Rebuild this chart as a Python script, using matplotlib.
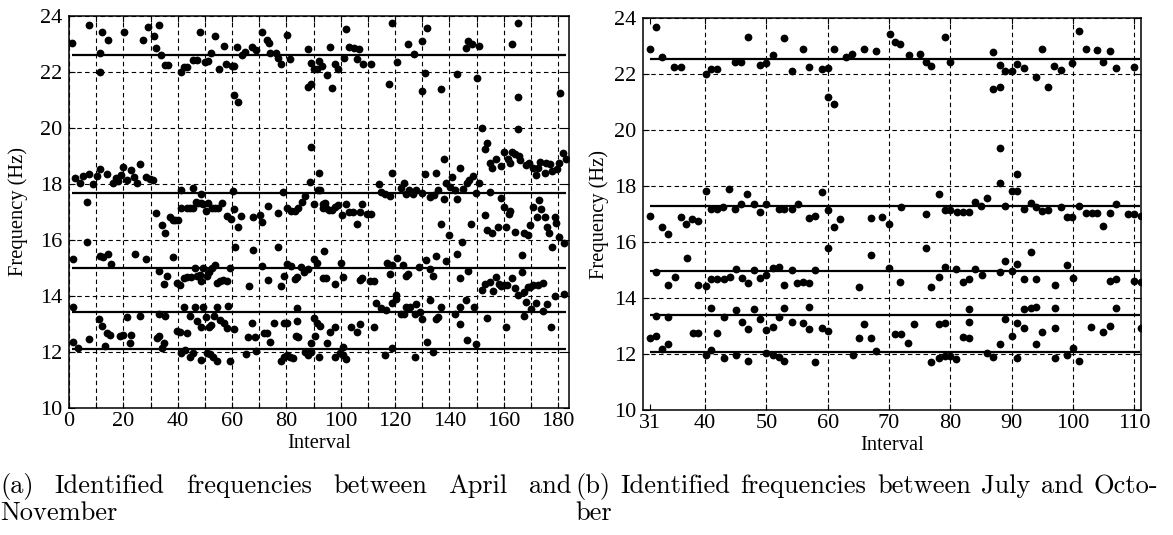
import numpy as np
import matplotlib.pyplot as plt

plt.rcParams['font.family'] = ['Liberation Serif', 'DejaVu Serif']

# (a) April - November : (interval, frequency) pairs per band
a_band1 = [(1.0, 23.03), (7.4, 23.69), (11.4, 22.67), (11.4, 21.99), (12.1, 23.42), (14.5, 23.15),
           (20.1, 23.42), (27.1, 23.13), (29.2, 23.59), (31.3, 23.28), (32.2, 22.87), (33.2, 23.69),
           (33.9, 22.6), (35.3, 22.24), (36.4, 22.24), (41.4, 22.01), (42.3, 22.18), (43.3, 22.18),
           (45.7, 22.43), (47.2, 22.43), (48.2, 23.44), (50.0, 22.35), (51.0, 22.38), (52.2, 22.67),
           (53.9, 23.27), (55.1, 22.1), (57.0, 22.92), (57.9, 22.29), (59.9, 22.2), (60.9, 22.2),
           (60.9, 21.18), (62.3, 20.94), (62.0, 22.9), (63.8, 22.6), (64.9, 22.72), (67.2, 22.9),
           (69.0, 22.8), (71.2, 23.42), (72.7, 23.15), (73.5, 23.05), (74.1, 22.67), (76.0, 22.67),
           (77.0, 22.5), (78.0, 22.3), (80.2, 23.31), (81.2, 22.46), (87.9, 22.82), (89.0, 22.32),
           (90.1, 22.1), (91.1, 22.1), (92.0, 22.4), (88.0, 21.48), (89.0, 21.57), (93.1, 22.21),
           (96.0, 22.9), (95.0, 21.88), (97.8, 22.3), (99.0, 22.12), (96.9, 21.42), (101.8, 23.54),
           (101.1, 22.49), (103.0, 22.9), (105.0, 22.87), (106.9, 22.82), (106.0, 22.45), (108.2, 22.27),
           (111.0, 22.3), (119.0, 23.76), (120.8, 22.34), (117.8, 21.57), (124.9, 22.99), (127.1, 22.63),
           (130.0, 23.12), (131.7, 23.58), (131.1, 21.96), (130.0, 21.33), (137.0, 21.4), (142.8, 21.94),
           (146.0, 22.87), (146.8, 23.12), (148.3, 22.99), (150.7, 22.94), (150.1, 21.78), (162.9, 22.99),
           (165.1, 23.76), (165.1, 21.12), (180.5, 21.26)]

a_band2 = [(89.2, 19.33), (152.0, 20.0), (165.1, 19.98), (153.7, 19.48), (152.9, 19.24), (155.0, 18.76),
           (155.7, 18.56), (157.0, 18.91), (159.0, 18.64), (160.0, 19.13), (161.5, 18.88), (162.1, 18.75),
           (162.9, 19.13), (164.2, 19.07), (165.5, 19.0), (166.1, 18.86), (168.3, 18.67), (169.2, 18.74),
           (170.8, 18.57), (172.0, 18.33), (172.6, 18.57), (173.5, 18.8), (175.1, 18.38), (175.7, 18.74),
           (176.9, 18.71), (177.9, 18.46), (179.4, 18.55), (180.4, 18.75), (181.8, 19.1), (183.0, 18.9),
           (2.2, 18.21), (4.0, 18.05), (5.3, 18.29), (7.5, 18.36), (8.9, 18.0), (10.2, 18.29),
           (11.6, 18.53), (13.9, 18.36), (16.1, 18.03), (17.3, 18.21), (18.1, 18.09), (19.1, 18.32),
           (20.0, 18.6), (21.2, 18.14), (22.8, 18.5), (23.9, 18.26), (25.1, 18.03), (26.1, 18.7),
           (28.3, 18.26), (29.8, 18.17), (31.0, 18.14)]

a_band3 = [(6.5, 17.37), (32.2, 16.95), (34.3, 16.53), (35.3, 16.26), (37.1, 16.81), (38.1, 16.73),
           (39.0, 16.7), (40.2, 16.73), (41.4, 17.77), (45.7, 17.84), (48.6, 17.65), (41.3, 17.13),
           (43.3, 17.13), (44.5, 17.16), (45.7, 17.15), (46.7, 17.37), (47.6, 17.31), (48.4, 17.31),
           (49.4, 17.29), (50.3, 17.05), (51.0, 17.31), (52.7, 17.13), (53.9, 17.13), (54.9, 17.13),
           (56.4, 17.31), (60.4, 17.74), (58.0, 16.84), (59.5, 16.75), (60.7, 17.1), (62.3, 16.48),
           (63.2, 16.84), (67.8, 16.81), (70.2, 16.9), (71.2, 16.63), (73.1, 17.23), (77.0, 16.95),
           (78.8, 17.7), (80.2, 17.13), (81.8, 17.05), (83.1, 17.05), (84.3, 17.13), (85.6, 17.37),
           (86.8, 17.56), (88.6, 18.08), (91.7, 17.79), (92.3, 17.79), (92.0, 18.41), (90.0, 17.28),
           (93.5, 17.28), (94.1, 17.33), (93.3, 17.15), (94.7, 17.13), (95.7, 17.07), (96.7, 17.07),
           (97.8, 17.19), (99.0, 17.25), (100.6, 16.89), (101.8, 17.28), (103.1, 17.0), (104.6, 17.0),
           (106.0, 16.58), (107.0, 17.0), (108.0, 17.3), (109.8, 16.94), (111.3, 16.94),
           (114.0, 17.99), (114.9, 17.7), (116.2, 17.65), (118.0, 17.58), (119.0, 18.38), (122.3, 17.84),
           (123.2, 18.04), (123.9, 17.65), (125.1, 17.8), (126.6, 17.65), (127.8, 17.77), (130.0, 17.67),
           (131.1, 18.35), (134.9, 18.38), (132.9, 17.52), (134.2, 17.6), (135.8, 17.77), (138.0, 17.47),
           (138.0, 18.88), (138.9, 18.03), (140.3, 17.9), (141.0, 18.26), (141.9, 17.77), (142.8, 17.48),
           (143.8, 18.56), (145.0, 17.83), (146.3, 18.04), (147.2, 18.14), (148.7, 18.28), (149.9, 17.67),
           (150.9, 18.05), (137.0, 16.57), (139.8, 16.18), (144.7, 15.94), (147.8, 16.57),
           (154.8, 17.72), (158.9, 17.49), (159.9, 17.17), (161.8, 16.93), (162.4, 17.03), (153.0, 16.89),
           (153.8, 16.35), (155.8, 16.26), (157.8, 16.45), (160.9, 16.45), (164.0, 16.29), (167.6, 16.26),
           (168.8, 16.17), (169.5, 16.54), (170.7, 17.18), (172.1, 16.83), (172.9, 17.42), (173.7, 17.12),
           (175.0, 16.83), (175.8, 16.45), (176.6, 16.24), (177.8, 15.74), (178.7, 16.81), (179.3, 16.62),
           (180.3, 16.12), (182.0, 15.9)]

a_band4 = [(1.4, 15.31), (6.5, 15.94), (11.4, 15.43), (12.4, 15.38), (14.2, 15.5), (15.4, 15.14),
           (24.3, 15.5), (28.3, 15.31), (33.2, 14.9), (36.2, 14.71), (35.0, 14.43), (38.4, 15.4),
           (39.8, 14.45), (41.0, 14.39), (42.3, 14.65), (43.3, 14.69), (45.0, 14.69), (46.2, 15.01),
           (47.2, 14.71), (48.2, 14.74), (48.4, 14.53), (49.4, 15.01), (50.9, 14.71), (51.7, 14.85),
           (52.7, 15.01), (53.6, 15.1), (54.3, 14.48), (55.5, 14.53), (56.7, 14.56), (58.0, 14.53),
           (59.4, 15.01), (61.0, 15.74), (67.8, 15.64), (66.3, 14.37), (71.2, 15.07), (73.1, 14.57),
           (77.0, 15.74), (78.2, 14.37), (79.1, 14.73), (80.2, 15.13), (81.8, 15.07), (83.1, 14.6),
           (83.9, 14.69), (85.2, 15.05), (86.4, 14.86), (88.0, 14.95), (90.2, 15.31), (91.1, 15.19),
           (93.8, 15.61), (93.3, 14.63), (94.5, 14.63), (97.8, 14.43), (100.2, 15.17), (100.9, 14.69),
           (107.0, 14.57), (108.0, 14.63), (110.9, 14.55), (112.1, 14.55), (117.0, 15.19), (118.0, 14.79),
           (118.9, 15.11), (120.8, 15.35), (122.9, 15.11), (123.9, 14.71), (124.7, 14.79), (128.8, 15.05),
           (131.2, 15.29), (132.9, 14.95), (133.9, 14.71), (134.9, 15.43), (138.6, 15.26), (142.8, 15.5),
           (144.0, 14.65), (146.8, 14.9), (152.1, 14.21), (153.0, 14.43), (154.8, 14.51), (156.0, 14.19),
           (157.3, 14.67), (158.2, 14.43), (159.1, 14.36), (159.9, 14.39), (161.2, 14.39), (162.9, 14.63),
           (164.0, 14.27), (165.2, 14.04), (166.8, 14.87), (167.6, 14.15), (168.3, 13.8), (168.9, 14.31),
           (169.5, 14.33), (170.7, 14.39), (172.6, 14.39), (174.6, 14.45), (178.7, 14.0), (166.8, 15.46),
           (182.0, 14.08)]

a_band5 = [(1.4, 13.6), (11.0, 13.17), (12.0, 12.93), (13.9, 12.69), (15.1, 12.61), (18.7, 12.57),
           (19.7, 12.61), (21.2, 13.26), (23.0, 12.61), (26.1, 13.29), (33.0, 13.36), (35.3, 13.29),
           (42.3, 13.6), (44.5, 13.29), (46.2, 13.6), (47.2, 13.12), (48.4, 12.9), (49.4, 13.6),
           (50.3, 13.26), (51.5, 12.9), (52.3, 12.96), (53.3, 13.29), (54.3, 13.6), (55.5, 13.14),
           (57.0, 13.04), (58.2, 12.84), (58.6, 13.64), (60.7, 12.81), (39.6, 12.76), (40.8, 12.73),
           (43.3, 12.69), (33.1, 12.57), (32.5, 12.49), (34.9, 12.33), (34.3, 12.15), (65.9, 12.52),
           (67.2, 13.02), (68.4, 12.52), (69.0, 12.04), (71.7, 12.69), (72.9, 12.69), (74.1, 12.36),
           (75.4, 13.04), (79.1, 13.04), (80.1, 13.04), (84.0, 13.56), (84.0, 13.12), (83.5, 12.57),
           (84.3, 12.54), (89.2, 12.31), (90.4, 12.57), (1.4, 12.37), (3.4, 12.13), (7.5, 12.45),
           (13.2, 12.21), (22.4, 12.31), (90.0, 13.2), (91.3, 13.04), (92.5, 12.92), (95.0, 12.31),
           (96.2, 12.73), (97.8, 12.9), (100.9, 12.19), (103.9, 12.9), (106.0, 12.73), (107.0, 13.0),
           (112.1, 12.88), (112.8, 13.74), (114.9, 13.56), (116.8, 13.5), (118.9, 13.76), (120.2, 14.04),
           (120.4, 13.88), (122.3, 13.36), (123.2, 13.36), (123.9, 13.62), (125.4, 13.6), (127.2, 13.36),
           (127.8, 13.71), (129.0, 13.44), (130.0, 13.17), (132.9, 13.86), (135.1, 13.17), (135.8, 13.26),
           (137.0, 13.6), (141.9, 13.36), (143.8, 13.6), (146.0, 13.86), (148.9, 13.62), (143.8, 13.0),
           (146.3, 12.43), (149.9, 12.29), (131.7, 12.37), (133.9, 12.01), (153.8, 13.2), (160.9, 12.9),
           (167.6, 13.3), (170.0, 13.55), (172.0, 13.75), (174.5, 13.45), (176.0, 13.7), (177.5, 12.9)]

a_band6 = [(41.4, 11.95), (42.7, 12.07), (44.5, 11.83), (45.7, 11.95), (48.4, 11.71), (50.9, 11.98),
           (51.9, 11.93), (53.1, 11.81), (54.3, 11.69), (59.4, 11.69), (65.2, 11.93), (78.2, 11.69),
           (79.1, 11.81), (80.1, 11.9), (81.4, 11.81), (82.6, 11.77), (86.8, 12.01), (88.0, 11.9),
           (88.9, 12.01), (92.0, 11.81), (97.8, 11.81), (99.8, 11.98), (100.9, 11.9), (101.8, 11.74),
           (116.2, 11.9), (118.9, 12.13), (127.2, 11.81)]

a_means = [22.6, 17.67, 15.0, 13.42, 12.09]

# (b) July - October
b_band1 = [(31.0, 22.88), (32.0, 23.69), (33.0, 22.6), (34.9, 22.24), (36.0, 22.24), (40.1, 22.0),
           (40.9, 22.17), (41.9, 22.17), (44.9, 22.42), (45.9, 22.42), (47.0, 23.34), (48.9, 22.32),
           (50.0, 22.38), (51.0, 22.68), (52.9, 23.27), (54.1, 22.12), (56.0, 22.9), (57.0, 22.26),
           (59.0, 22.17), (60.1, 22.2), (60.1, 21.19), (61.1, 20.93), (61.1, 22.9), (63.0, 22.6),
           (64.0, 22.7), (66.0, 22.88), (67.9, 22.82), (70.1, 23.42), (71.0, 23.14), (71.8, 23.06),
           (73.2, 22.68), (75.0, 22.71), (76.0, 22.44), (76.9, 22.29), (79.1, 23.31), (80.0, 22.44),
           (87.0, 22.8), (88.1, 22.32), (89.0, 22.1), (90.0, 22.1), (90.9, 22.36), (92.0, 22.2),
           (94.0, 21.9), (95.0, 22.9), (96.0, 21.52), (97.0, 22.29), (98.0, 22.14), (99.9, 22.4),
           (101.0, 23.55), (102.1, 22.88), (104.0, 22.86), (106.0, 22.81), (105.0, 22.43), (107.1, 22.21),
           (110.0, 22.25), (87.0, 21.48), (88.1, 21.55)]

b_band2 = [(88.1, 19.35), (90.9, 18.43), (88.1, 18.1), (90.0, 17.82), (90.9, 17.82), (78.1, 17.71),
           (86.0, 17.56), (84.1, 17.44), (85.0, 17.3), (72.0, 17.26), (76.0, 17.0), (79.1, 17.14),
           (80.0, 17.14), (81.1, 17.07), (82.1, 17.07), (83.0, 17.08), (89.0, 17.3), (92.1, 17.18),
           (93.1, 17.38), (94.0, 17.26), (95.0, 17.12), (96.0, 17.14), (98.0, 17.26), (99.0, 16.9),
           (99.9, 16.9), (101.0, 17.3), (102.1, 17.02), (103.1, 17.02), (104.0, 17.02), (105.0, 16.58),
           (106.0, 17.02), (107.1, 17.35), (109.0, 17.0), (110.0, 17.0), (111.1, 16.94), (68.9, 16.9),
           (70.0, 16.64), (67.0, 16.87), (31.0, 16.93), (33.0, 16.55), (34.0, 16.27), (36.0, 16.9),
           (36.9, 16.65), (37.9, 16.81), (38.9, 16.76), (40.1, 17.82), (40.9, 17.17), (41.9, 17.17),
           (42.9, 17.24), (43.9, 17.89), (44.9, 17.17), (45.9, 17.36), (46.9, 17.71), (47.9, 17.36),
           (48.9, 17.08), (50.0, 17.36), (52.0, 17.17), (52.9, 17.17), (54.1, 17.17), (55.1, 17.36),
           (56.9, 16.87), (57.9, 16.93), (59.0, 17.8), (60.1, 17.14), (61.1, 16.55), (62.0, 16.82)]

b_band3 = [(60.1, 15.77), (37.0, 15.42), (67.0, 15.53), (32.0, 14.93), (34.0, 14.46), (35.0, 14.74),
           (38.9, 14.46), (40.1, 14.43), (41.0, 14.68), (42.0, 14.68), (43.0, 14.68), (44.0, 14.74),
           (45.0, 15.02), (46.0, 14.73), (47.0, 14.55), (47.9, 15.0), (48.9, 14.73), (50.0, 14.82),
           (51.0, 15.08), (52.0, 15.12), (52.9, 14.46), (54.1, 15.0), (55.0, 14.55), (56.0, 14.58),
           (57.0, 14.52), (57.9, 15.0), (65.1, 14.4), (70.0, 15.08), (71.8, 14.57), (76.0, 15.77),
           (78.1, 14.74), (79.1, 15.12), (81.0, 15.04), (82.0, 14.58), (83.1, 14.67), (84.1, 15.02),
           (85.1, 14.84), (88.1, 14.92), (89.0, 15.32), (90.0, 14.96), (90.9, 15.2), (92.1, 14.67),
           (93.1, 15.63), (94.0, 14.67), (97.1, 14.46), (99.0, 15.18), (100.0, 14.7), (106.0, 14.61),
           (107.1, 14.67), (110.0, 14.61), (111.1, 14.56), (76.9, 14.4)]

b_band4 = [(32.0, 13.37), (34.0, 13.33), (31.0, 12.58), (32.0, 12.64), (33.0, 12.17), (34.0, 12.36),
           (38.0, 12.76), (38.9, 12.76), (41.0, 13.63), (42.0, 12.74), (43.0, 13.33), (45.0, 13.57),
           (46.0, 13.15), (47.0, 12.9), (47.9, 13.6), (48.9, 13.26), (50.0, 12.87), (51.0, 12.98),
           (52.0, 13.31), (52.9, 13.65), (54.1, 13.15), (56.0, 13.1), (57.0, 12.88), (57.0, 13.69),
           (59.0, 12.94), (60.1, 12.83), (65.1, 12.56), (66.0, 13.06), (67.0, 12.56), (67.9, 12.11),
           (70.9, 12.7), (71.9, 12.7), (73.1, 12.38), (74.0, 13.06), (78.1, 13.06), (79.1, 13.1),
           (82.0, 12.6), (83.1, 12.56), (83.1, 13.6), (83.1, 13.15), (89.0, 13.24), (90.0, 12.64),
           (90.9, 13.1), (92.1, 12.92), (92.1, 13.6), (93.1, 13.63), (94.0, 13.67), (94.0, 12.36),
           (95.0, 12.77), (97.1, 13.65), (97.1, 12.92), (100.0, 12.23), (103.0, 12.95), (105.0, 12.77),
           (106.0, 13.01), (107.1, 13.63), (111.1, 12.92), (88.1, 12.36)]

b_band5 = [(40.1, 11.96), (41.0, 12.14), (43.0, 11.85), (45.0, 11.96), (47.0, 11.75), (50.0, 12.02),
           (51.0, 11.96), (52.0, 11.88), (52.9, 11.75), (57.9, 11.73), (64.1, 11.96), (76.9, 11.7),
           (78.1, 11.85), (79.1, 11.93), (80.0, 11.93), (81.0, 11.82), (86.0, 12.02), (87.0, 11.88),
           (90.9, 11.85), (97.1, 11.85), (99.0, 11.96), (101.0, 11.76)]

b_means = [22.55, 17.28, 14.97, 13.38, 12.08]

a_ticks = list(range(0, 181, 10))
a_labels = [str(t) if t % 20 == 0 else '' for t in a_ticks]
b_ticks = [31, 40, 50, 60, 70, 80, 90, 100, 110]
y_ticks = list(range(10, 25, 2))

caption_a = ['(a)', 'Identified', 'frequencies', 'between', 'April', 'and']
caption_b = ['(b)', 'Identified', 'frequencies', 'between', 'July', 'and', 'Octo-']

W, H = 1173, 535
fig = plt.figure(figsize=(W / 100, H / 100), dpi=100)
ax_a = fig.add_axes([0.0588, 0.2374, 0.4263, 0.7327])
ax_b = fig.add_axes([0.5482, 0.2336, 0.4246, 0.7327])


def draw(ax, bands, means, xlim, xr):
    for band in bands:
        pts = np.array(band)
        ax.plot(pts[:, 0], pts[:, 1], 'o', color='black', ms=5.6, mew=0)
    ax.hlines(means, xr[0], xr[1], colors='black', lw=1.6, zorder=3)
    ax.set_xlim(*xlim)
    ax.set_ylim(10, 24)
    ax.set_yticks(y_ticks)
    ax.grid(True, color='black', ls=(0, (4, 3)), lw=0.8)
    ax.tick_params(direction='in', length=4, labelsize=16, top=True, right=True)
    ax.tick_params(axis='x', pad=3)
    ax.tick_params(axis='y', pad=5)
    for s in ax.spines.values():
        s.set_linewidth(1.1)
    ax.set_xlabel('Interval', fontsize=14.8)
    ax.set_ylabel('Frequency (Hz)', fontsize=14.8)


draw(ax_a, [a_band1, a_band2, a_band3, a_band4, a_band5, a_band6], a_means, (0, 184), (1, 183))
ax_a.set_xticks(a_ticks)
ax_a.set_xticklabels(a_labels)
ax_a.xaxis.set_label_coords(0.5, -0.067)
ax_a.yaxis.set_label_coords(-0.082, 0.5)

draw(ax_b, [b_band1, b_band2, b_band3, b_band4, b_band5], b_means, (29.85, 111.15), (31, 111))
ax_b.set_xticks(b_ticks)
ax_b.get_xgridlines()[0].set_visible(False)
ax_b.xaxis.set_label_coords(0.5, -0.067)
ax_b.yaxis.set_label_coords(-0.068, 0.5)


# captions, justified between two pixel positions like the LaTeX subcaption
def justified(words, x0, x1, y, size):
    texts = [fig.text(0, y / H, w, fontsize=size, va='baseline', family=['cmr10', 'DejaVu Serif'])
             for w in words]
    fig.canvas.draw()
    r = fig.canvas.get_renderer()
    widths = [t.get_window_extent(r).width for t in texts]
    gap = (x1 - x0 - sum(widths)) / (len(words) - 1)
    x = x0
    for t, w in zip(texts, widths):
        t.set_x(x / W)
        x += w + gap


justified(caption_a, 0, 571, H - 493, 19)
justified(caption_b, 575, 1158, H - 493, 19)
fig.text(0, (H - 520) / H, 'November', fontsize=19, va='baseline', family=['cmr10', 'DejaVu Serif'])
fig.text(575 / W, (H - 520) / H, 'ber', fontsize=19, va='baseline', family=['cmr10', 'DejaVu Serif'])

fig.savefig('out.png', dpi=100)
